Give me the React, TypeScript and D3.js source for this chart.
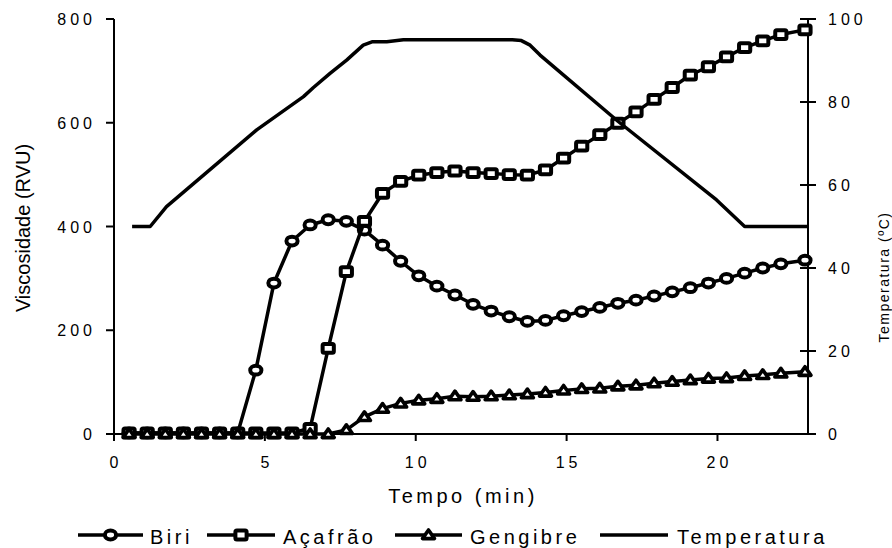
import React from "react";
import * as d3 from "d3";

const times = [0.5, 1.1, 1.7, 2.3, 2.9, 3.5, 4.1, 4.7, 5.3, 5.9, 6.5, 7.1, 7.7, 8.3, 8.9, 9.5, 10.1, 10.7, 11.3, 11.9, 12.5, 13.1, 13.7, 14.3, 14.9, 15.5, 16.1, 16.7, 17.3, 17.9, 18.5, 19.1, 19.7, 20.3, 20.9, 21.5, 22.1, 22.9];
const biri = [2, 2, 2, 2, 2, 2, 2, 123, 291, 372, 403, 413, 410, 393, 364, 333, 305, 285, 268, 250, 237, 226, 217, 219, 228, 236, 244, 252, 258, 266, 274, 282, 291, 300, 310, 320, 328, 335];
const acafrao = [2, 2, 2, 2, 2, 2, 2, 2, 2, 2, 11, 165, 313, 410, 464, 487, 499, 504, 507, 504, 502, 500, 499, 509, 532, 555, 577, 599, 621, 645, 668, 692, 708, 727, 745, 758, 770, 779];
const gengibre = [0, 0, 0, 0, 0, 0, 0, 0, 0, 0, 0, 0, 8, 33, 49, 59, 65, 68, 73, 72, 73, 75, 77, 80, 84, 87, 88, 92, 94, 98, 101, 104, 107, 108, 112, 114, 117, 120];
const tempTimes = [0.6, 1.2, 1.74, 4.73, 6.28, 6.61, 7.16, 7.71, 8.26, 8.55, 9.04, 9.59, 13.2, 13.5, 13.79, 14.12, 16.71, 19.97, 20.9, 23.0];
const temperatura = [50, 50, 54.8, 73.3, 81.3, 83.5, 86.9, 90.1, 93.7, 94.5, 94.5, 95, 95, 94.8, 93.7, 91.3, 75.3, 56.4, 50, 50];

const xTicks = [0, 5, 10, 15, 20];
const yLeftTicks = [0, 200, 400, 600, 800];
const yRightTicks = [0, 20, 40, 60, 80, 100];
const legendLabels = ["Biri", "Açafrão", "Gengibre", "Temperatura"];

const FONT = "'Liberation Sans', Arial, sans-serif";

type Pt = [number, number];

function Marker({ kind, x, y }: { kind: string; x: number; y: number }) {
  const sw = 4;
  if (kind === "circle") {
    return <ellipse cx={x} cy={y} rx={5.6} ry={4.4} fill="#fff" stroke="#000" strokeWidth={sw} />;
  }
  if (kind === "square") {
    return <rect x={x - 5.6} y={y - 4.4} width={11.2} height={8.8} rx={1.5} fill="#fff" stroke="#000" strokeWidth={sw} />;
  }
  const p = `M${x},${y - 5} L${x + 6},${y + 3.6} L${x - 6},${y + 3.6} Z`;
  return <path d={p} fill="#fff" stroke="#000" strokeWidth={3.6} strokeLinejoin="round" />;
}

export default function App() {
  const W = 892, H = 548;
  const x = d3.scaleLinear().domain([0, 23]).range([114, 808]);
  const yV = d3.scaleLinear().domain([0, 800]).range([434, 19]);
  const yT = d3.scaleLinear().domain([0, 100]).range([434, 19]);

  const line = d3.line<Pt>().x((d) => d[0]).y((d) => d[1]);

  const series = [
    { name: "Biri", vals: biri, kind: "circle" },
    { name: "Açafrão", vals: acafrao, kind: "square" },
    { name: "Gengibre", vals: gengibre, kind: "triangle" },
  ];

  const tempPts: Pt[] = tempTimes.map((t, i) => [x(t), yT(temperatura[i])]);

  const legendItems = [
    { x0: 78, x1: 143, tx: 150, kind: "circle" },
    { x0: 207, x1: 275, tx: 283, kind: "square" },
    { x0: 395, x1: 462, tx: 470, kind: "triangle" },
    { x0: 600, x1: 668, tx: 677, kind: "none" },
  ];
  const ly = 535;

  return (
    <svg width={W} height={H} style={{ position: "absolute", left: 0, top: 0, background: "#fff" }} fontFamily={FONT}>
      <rect x={0} y={0} width={W} height={H} fill="#fff" />
      {/* axes */}
      <line x1={114} x2={114} y1={19} y2={434} stroke="#000" strokeWidth={2} />
      <line x1={808} x2={808} y1={19} y2={434} stroke="#000" strokeWidth={2} />
      <line x1={106} x2={816} y1={434} y2={434} stroke="#000" strokeWidth={2} />
      {yLeftTicks.map((v) => (
        <g key={"l" + v}>
          <line x1={106} x2={114} y1={yV(v)} y2={yV(v)} stroke="#000" strokeWidth={2} />
          <text x={96} y={yV(v) + 6} textAnchor="end" fontSize={16} letterSpacing={4} fill="#000">{v}</text>
        </g>
      ))}
      {yRightTicks.map((v) => (
        <g key={"r" + v}>
          <line x1={800} x2={816} y1={yT(v)} y2={yT(v)} stroke="#000" strokeWidth={2} />
          <text x={828} y={yT(v) + 6} textAnchor="start" fontSize={16} letterSpacing={4} fill="#000">{v}</text>
        </g>
      ))}
      {xTicks.map((v) => (
        <g key={"x" + v}>
          <line x1={x(v)} x2={x(v)} y1={434} y2={441} stroke="#000" strokeWidth={2} />
          <text x={x(v) + 2} y={468} textAnchor="middle" fontSize={16} letterSpacing={4} fill="#000">{v}</text>
        </g>
      ))}
      <text x={463} y={503} textAnchor="middle" fontSize={20} letterSpacing={3.5} fill="#000">Tempo (min)</text>
      <text transform={`translate(30,228) rotate(-90)`} textAnchor="middle" fontSize={20} fill="#000">Viscosidade (RVU)</text>
      <text transform={`translate(889,277) rotate(-90)`} textAnchor="middle" fontSize={14} letterSpacing={1.5} fill="#000">Temperatura (ºC)</text>

      {/* series */}
      {series.map((s) => {
        const pts: Pt[] = times.map((t, i) => [x(t), yV(s.vals[i])]);
        return (
          <g key={s.name}>
            <path d={line(pts) || ""} fill="none" stroke="#000" strokeWidth={3.5} strokeLinejoin="round" />
            {pts.map((p, i) => (
              <Marker key={i} kind={s.kind} x={p[0]} y={p[1]} />
            ))}
          </g>
        );
      })}
      <path d={line(tempPts) || ""} fill="none" stroke="#000" strokeWidth={3.5} strokeLinejoin="round" />

      {/* legend */}
      {legendItems.map((it, i) => (
        <g key={"lg" + i}>
          <line x1={it.x0} x2={it.x1} y1={ly} y2={ly} stroke="#000" strokeWidth={3.5} />
          {it.kind !== "none" && <Marker kind={it.kind} x={(it.x0 + it.x1) / 2} y={ly} />}
          <text x={it.tx} y={544} fontSize={20} letterSpacing={3.5} fill="#000">{legendLabels[i]}</text>
        </g>
      ))}
    </svg>
  );
}
